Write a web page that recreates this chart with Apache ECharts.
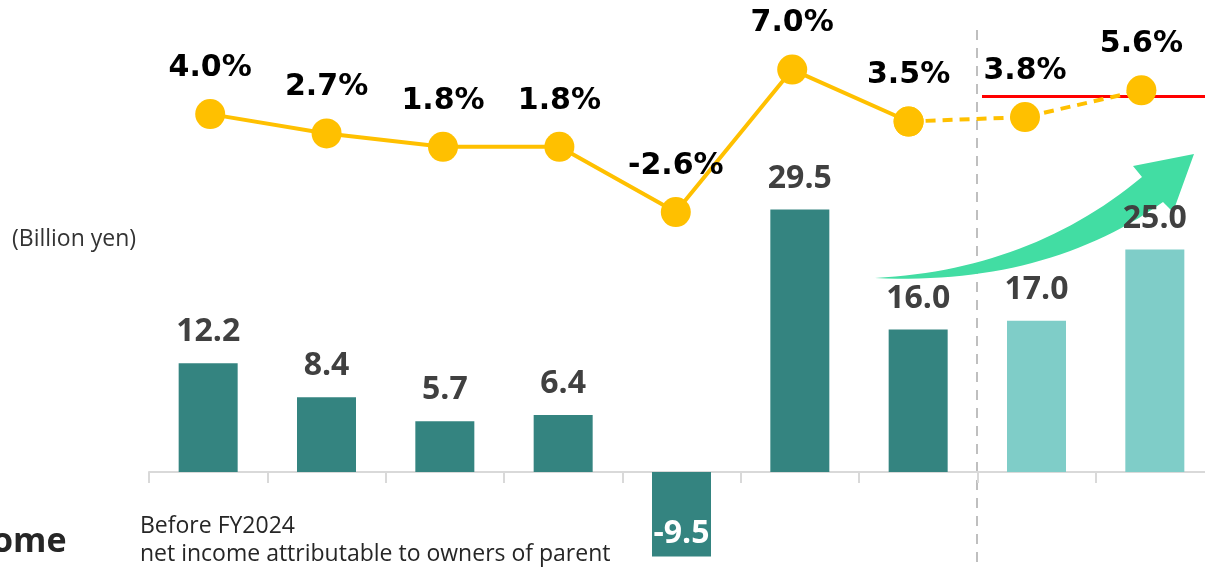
<!DOCTYPE html>
<html>
<head>
<meta charset="utf-8">
<script src="https://cdn.jsdelivr.net/npm/echarts@6/dist/echarts.min.js"></script>
<style>
  html, body { margin: 0; padding: 0; background: #fff; }
  #chart { width: 1205px; height: 568px; }
</style>
</head>
<body>
<div id="chart"></div>
<script>
// data
const periods = ['P1', 'P2', 'P3', 'P4', 'P5', 'P6', 'P7', 'P8', 'P9'];
const netIncome = [12.2, 8.4, 5.7, 6.4, -9.5, 29.5, 16.0, 17.0, 25.0];
const ratio = [4.0, 2.7, 1.8, 1.8, -2.6, 7.0, 3.5, 3.8, 5.6];
const firstForecast = 7; // last two periods are plans

const dark = '#348480';
const light = '#7FCDC8';
const yellow = '#FFC000';

// solid line up to the last actual, dashed after it
const solidLine = ratio.map((v, i) => (i < firstForecast ? v : null));
const dashedLine = ratio.map((v, i) => (i >= firstForecast - 1 ? v : null));

// outline of the green arrow (quadratic curves sampled into a polygon)
function quad(p0, c, p1, n) {
  let pts = [];
  for (let k = 0; k <= n; k++) {
    let t = k / n, u = 1 - t;
    pts.push([u * u * p0[0] + 2 * u * t * c[0] + t * t * p1[0],
              u * u * p0[1] + 2 * u * t * c[1] + t * t * p1[1]]);
  }
  return pts;
}
const arrowPts = []
  .concat(quad([875, 278], [1030, 270], [1142, 177], 30))
  .concat([[1133, 166], [1194, 154], [1173, 212]])
  .concat(quad([1163, 202], [1045, 286], [875, 278], 30));

let myChart = echarts.init(document.getElementById('chart'));
let option = {
  animation: false,
  grid: [
    { left: 149, right: -9, top: 27, bottom: 0, outerBoundsMode: 'none' },
    { left: 152, top: 25, width: 1047.6, height: 297, outerBoundsMode: 'none' }
  ],
  xAxis: [
    {
      type: 'category',
      gridIndex: 0,
      data: periods,
      axisLine: { lineStyle: { color: '#d9d9d9', width: 2 } },
      axisTick: { show: true, length: 11, lineStyle: { color: '#d9d9d9', width: 2 } },
      axisLabel: { show: false }
    },
    {
      type: 'category',
      gridIndex: 1,
      data: periods,
      show: false
    }
  ],
  yAxis: [
    { type: 'value', gridIndex: 0, min: -10.8, max: 50, show: false, splitLine: { show: false } },
    { type: 'value', gridIndex: 1, min: -10, max: 10, show: false, splitLine: { show: false } }
  ],
  graphic: [
    // separator between actuals and plans
    {
      type: 'line', z: 0,
      shape: { x1: 977, y1: 30, x2: 977, y2: 568 },
      style: { stroke: '#bfbfbf', lineWidth: 2, lineDash: [10, 8] }
    },
    // red target line
    {
      type: 'line', z: 0,
      shape: { x1: 982, y1: 96.5, x2: 1205, y2: 96.5 },
      style: { stroke: '#ff0000', lineWidth: 3 }
    },
    // green growth arrow
    {
      type: 'polygon', z: 0,
      shape: { points: arrowPts },
      style: { fill: '#42DDA3' }
    },
    {
      type: 'text', x: 12, y: 228,
      style: { text: '(Billion yen)', fontSize: 23, fontFamily: 'Open Sans', fill: '#333' }
    },
    {
      type: 'text', x: -8, y: 525,
      style: { text: 'ome', fontSize: 34, fontWeight: 'bold', fontFamily: 'Open Sans', fill: '#262626' }
    },
    {
      type: 'text', x: 140, y: 512,
      style: {
        text: 'Before FY2024\nnet income attributable to owners of parent',
        fontSize: 23, fontFamily: 'Open Sans', lineHeight: 28, fill: '#262626'
      }
    }
  ],
  series: [
    {
      type: 'bar',
      xAxisIndex: 0,
      yAxisIndex: 0,
      barWidth: 59,
      data: netIncome.map((v, i) => ({
        value: v,
        itemStyle: { color: i >= firstForecast ? light : dark },
        label: v < 0
          ? { position: 'insideBottom', distance: 7, color: '#fff' }
          : { position: 'top', distance: 15, color: '#404040' }
      })),
      label: {
        show: true,
        fontFamily: 'Open Sans',
        fontWeight: 'bold',
        fontSize: 32,
        formatter: p => p.value.toFixed(1)
      }
    },
    {
      type: 'line',
      xAxisIndex: 1,
      yAxisIndex: 1,
      data: dashedLine,
      symbol: 'circle',
      symbolSize: 30,
      lineStyle: { color: yellow, width: 4, type: [10, 7] },
      itemStyle: { color: yellow },
      label: {
        show: true,
        position: 'top',
        distance: 16,
        color: '#000',
        fontFamily: 'DejaVu Sans',
        fontWeight: 'bold',
        fontSize: 30,
        formatter: p => (p.dataIndex >= firstForecast ? p.value.toFixed(1) + '%' : '')
      }
    },
    {
      type: 'line',
      xAxisIndex: 1,
      yAxisIndex: 1,
      data: solidLine,
      symbol: 'circle',
      symbolSize: 30,
      lineStyle: { color: yellow, width: 4 },
      itemStyle: { color: yellow },
      label: {
        show: true,
        position: 'top',
        distance: 16,
        color: '#000',
        fontFamily: 'DejaVu Sans',
        fontWeight: 'bold',
        fontSize: 30,
        formatter: p => p.value.toFixed(1) + '%'
      }
    }
  ]
};
myChart.setOption(option);
</script>
</body>
</html>
